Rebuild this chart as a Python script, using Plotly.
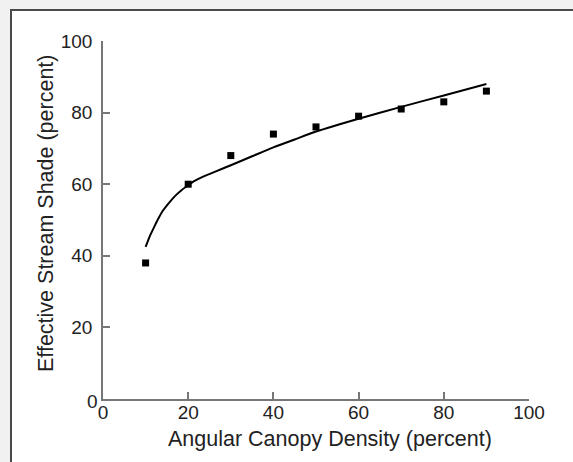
import plotly.graph_objects as go

# Measured points
density = [10, 20, 30, 40, 50, 60, 70, 80, 90]
shade = [38, 60, 68, 74, 76, 79, 81, 83, 86]

# Fitted curve
curve_x = [10, 11, 12, 13, 14, 15.5, 17, 18.5, 20, 21.5, 23.5, 26.5, 30, 35, 40, 45, 50, 60, 70, 80, 90]
curve_y = [42.5, 45.5, 48, 50.4, 52.5, 54.8, 56.8, 58.4, 59.7, 60.9, 62.1, 63.6, 65.3, 67.8, 70.3, 72.5, 74.7, 78.3, 81.6, 84.8, 88.0]

x_tick_vals = [0, 20, 40, 60, 80, 100]
x_tick_text = ["0", "20", "40", "60", "80", "100"]
y_tick_vals = [0, 20, 40, 60, 80, 100]
y_tick_text = ["", "20", "40", "60", "80", "100"]
y_zero_label = "0"

x_title = "Angular Canopy Density (percent)"
y_title = "Effective Stream Shade (percent)"

W, H = 573, 462
L, R, T, B = 103, 44, 41, 63
pw, ph = W - L - R, H - T - B

def px_x(p):
    return (p - L) / pw

def px_y(p):
    return (H - B - p) / ph

FONT = "Liberation Sans, Arial, Helvetica"
TXT = "#222222"

fig = go.Figure()
fig.add_trace(go.Scatter(x=curve_x, y=curve_y, mode="lines",
                         line=dict(color="black", width=2, shape="spline", smoothing=0.5),
                         hoverinfo="skip", showlegend=False))
fig.add_trace(go.Scatter(x=density, y=shade, mode="markers",
                         marker=dict(symbol="square", size=7, color="black"),
                         showlegend=False))

# framed card
fig.add_shape(type="rect", xref="paper", yref="paper",
              x0=px_x(11), x1=px_x(590), y0=px_y(480), y1=px_y(10),
              fillcolor="white", line=dict(color="#4a4a4a", width=2), layer="below")

axis_common = dict(range=[0, 100], showgrid=False, zeroline=False, showline=True,
                   linecolor="#777777", linewidth=1.5,
                   ticks="inside", ticklen=7, tickwidth=1.5, tickcolor="#777777",
                   tickfont=dict(family=FONT, size=19, color=TXT))

fig.update_xaxes(**axis_common, tickvals=x_tick_vals, ticktext=x_tick_text,
                 ticklabelstandoff=-5)
fig.update_yaxes(**axis_common, tickvals=y_tick_vals, ticktext=y_tick_text,
                 ticklabelstandoff=5)

fig.add_annotation(text=x_title, xref="paper", yref="paper",
                   x=px_x(330), y=px_y(439), showarrow=False,
                   xanchor="center", yanchor="middle",
                   font=dict(family=FONT, size=21.5, color=TXT))
fig.add_annotation(text=y_title, xref="paper", yref="paper",
                   x=px_x(46), y=px_y(214), showarrow=False, textangle=-90,
                   xanchor="center", yanchor="middle",
                   font=dict(family=FONT, size=21.5, color=TXT))
fig.add_annotation(text=y_zero_label, xref="paper", yref="paper",
                   x=px_x(92), y=px_y(401), showarrow=False,
                   xanchor="center", yanchor="middle",
                   font=dict(family=FONT, size=19, color=TXT))

fig.update_layout(width=W, height=H,
                  margin=dict(l=L, r=R, t=T, b=B, pad=0),
                  paper_bgcolor="#f1f1f1", plot_bgcolor="rgba(0,0,0,0)",
                  showlegend=False)

fig.write_html("out.html")
